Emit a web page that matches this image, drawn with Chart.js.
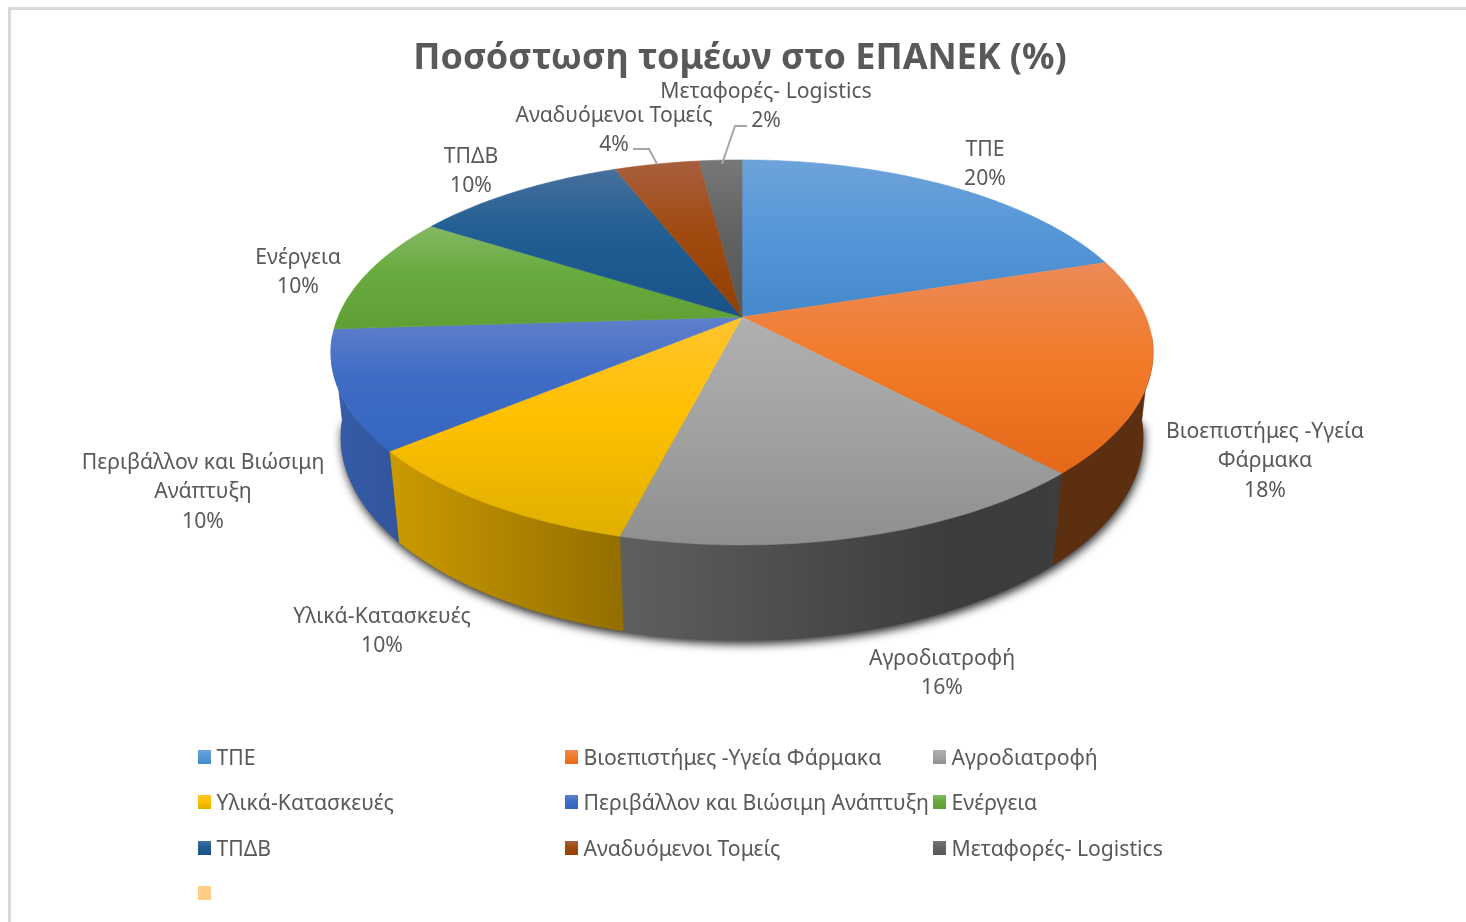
<!DOCTYPE html>
<html lang="el">
<head>
<meta charset="utf-8">
<title>Ποσόστωση τομέων στο ΕΠΑΝΕΚ (%)</title>
<script src="https://cdn.jsdelivr.net/npm/chart.js@4"></script>
<style>
    html, body { margin: 0; padding: 0; background: #fff; overflow: hidden; }
    canvas { display: block; }
</style>
</head>
<body>
<canvas id="pieChart" width="1466" height="922"></canvas>
<script>
// Chart data
const chartTitle = 'Ποσόστωση τομέων στο ΕΠΑΝΕΚ (%)';
const sectorLabels = ['ΤΠΕ', 'Βιοεπιστήμες -Υγεία Φάρμακα', 'Αγροδιατροφή', 'Υλικά-Κατασκευές',
    'Περιβάλλον και Βιώσιμη Ανάπτυξη', 'Ενέργεια', 'ΤΠΔΒ', 'Αναδυόμενοι Τομείς', 'Μεταφορές- Logistics', ''];
const sectorValues = [20, 18, 16, 10, 10, 10, 10, 4, 2, 0];

// Slice colours: base, top highlight, bottom shade
const sectorColors = ['#5697d8', '#f27b2a', '#a3a3a3', '#ffc000', '#3f6cc5',
    '#68ab3e', '#1f5d93', '#a04a10', '#636363', '#ffce85'];
const sectorLight = ['#6ea3da', '#ec8a58', '#b0b0b0', '#ffc42e', '#5f80cb',
    '#84b964', '#466f9c', '#a85f3e', '#777777', '#ffd08c'];
const sectorDark = ['#4589cb', '#e46817', '#8f8f8f', '#e0b000', '#3566c0',
    '#5f9f35', '#1a5288', '#924000', '#565656', '#ffce85'];

// Data label text, wrapped the way the reference wraps it
const labelLines = [['ΤΠΕ'], ['Βιοεπιστήμες -Υγεία', 'Φάρμακα'], ['Αγροδιατροφή'], ['Υλικά-Κατασκευές'],
    ['Περιβάλλον και Βιώσιμη', 'Ανάπτυξη'], ['Ενέργεια'], ['ΤΠΔΒ'], ['Αναδυόμενοι Τομείς'], ['Μεταφορές- Logistics']];

// Layout: centre x and first line y of each data label
const labelAnchors = [[985, 149.7], [1265, 431.7], [942, 658.7], [382, 616.7], [203, 462.7], [298, 257.7], [471, 156.7], [614, 115.7], [766, 91.7]];
const leaderLines = [
    [[633, 149], [649, 149], [657, 164]],
    [[747, 126], [735, 126], [722, 164]]
];
const legendColumns = [198, 565, 933];
const legendRows = [757, 802, 848, 893];

// Perspective of the tilted disc
const pie = { cx: 742, cy: 317, rx: 404, ry: 186, tilt: 0.184, depthW: 0.024, depthY: 85.4 };
// How dark the wall gets from left to right: [x, factor]
const wallShade = [[330, 0.86], [390, 0.8], [620, 0.58], [950, 0.37], [1153, 0.38]];
// Only this part of the rim faces the viewer
const wallFrom = 0.1;
const wallTo = Math.PI - 0.1;

const textColor = '#595959';
const textFont = '21.2px "Noto Sans"';

function project(angle, depth) {
    const u = Math.cos(angle);
    const v = Math.sin(angle);
    const w = 1 - pie.tilt * v + pie.depthW * depth;
    return {
        x: pie.cx + pie.rx * u / w,
        y: pie.cy + (pie.ry * v + pie.depthY * depth) / w
    };
}

function rimPoints(start, end, depth) {
    const steps = Math.max(2, Math.ceil((end - start) * 90));
    const points = [];
    for (let i = 0; i <= steps; i++) {
        points.push(project(start + (end - start) * i / steps, depth));
    }
    return points;
}

function tracePath(ctx, points) {
    ctx.beginPath();
    points.forEach((p, i) => (i ? ctx.lineTo(p.x, p.y) : ctx.moveTo(p.x, p.y)));
    ctx.closePath();
}

function shade(hex, factor) {
    const n = parseInt(hex.slice(1), 16);
    const part = (c) => Math.round(c * factor);
    return `rgb(${part(n >> 16)},${part((n >> 8) & 255)},${part(n & 255)})`;
}

function topGradient(ctx, i, y0, y1) {
    const g = ctx.createLinearGradient(0, y0, 0, y1);
    g.addColorStop(0, sectorLight[i]);
    g.addColorStop(0.45, sectorColors[i]);
    g.addColorStop(1, sectorDark[i]);
    return g;
}

function wallGradient(ctx, color) {
    const x0 = wallShade[0][0];
    const x1 = wallShade[wallShade.length - 1][0];
    const g = ctx.createLinearGradient(x0, 0, x1, 0);
    wallShade.forEach(([x, f]) => g.addColorStop((x - x0) / (x1 - x0), shade(color, f)));
    return g;
}

const pie3dPlugin = {
    id: 'pie3d',
    beforeDraw(chart) {
        const ctx = chart.ctx;
        ctx.save();
        ctx.fillStyle = '#d9d9d9';
        ctx.fillRect(8, 7, 1458, 3);
        ctx.fillRect(8, 7, 3, 915);
        ctx.restore();
    },
    beforeDatasetsDraw(chart) {
        const ctx = chart.ctx;
        const arcs = chart.getDatasetMeta(0).data;
        ctx.save();

        // soft shadow under the disc, kept below the widest part of the top face
        ctx.save();
        ctx.beginPath();
        ctx.rect(0, 375, chart.width, chart.height - 375);
        ctx.clip();
        ctx.shadowColor = 'rgba(0,0,0,0.85)';
        ctx.shadowBlur = 10;
        ctx.shadowOffsetX = 1;
        ctx.shadowOffsetY = 4;
        ctx.fillStyle = '#444';
        tracePath(ctx, rimPoints(wallFrom, wallTo, 1));
        ctx.fill();
        ctx.restore();

        // side walls, front facing part only
        arcs.forEach((arc, i) => {
            const start = Math.max(arc.startAngle, wallFrom);
            const end = Math.min(arc.endAngle, wallTo);
            if (end <= start) return;
            const points = rimPoints(start, end, 0).concat(rimPoints(start, end, 1).reverse());
            tracePath(ctx, points);
            const fill = wallGradient(ctx, sectorColors[i]);
            ctx.fillStyle = fill;
            ctx.strokeStyle = fill;
            ctx.lineWidth = 0.6;
            ctx.fill();
            ctx.stroke();
        });

        // top faces
        arcs.forEach((arc, i) => {
            if (arc.endAngle - arc.startAngle <= 0) return;
            const rim = rimPoints(arc.startAngle, arc.endAngle, 0);
            const points = [{ x: pie.cx, y: pie.cy }].concat(rim);
            const ys = points.map((p) => p.y);
            tracePath(ctx, points);
            const fill = topGradient(ctx, i, Math.min(...ys), Math.max(...ys));
            ctx.fillStyle = fill;
            ctx.strokeStyle = fill;
            ctx.lineWidth = 0.6;
            ctx.fill();
            ctx.stroke();
        });
        ctx.restore();

        // native flat arcs are replaced by the projected ones
        return false;
    },
    afterDraw(chart) {
        const ctx = chart.ctx;
        ctx.save();

        // leader lines
        ctx.strokeStyle = '#a6a6a6';
        ctx.lineWidth = 2;
        leaderLines.forEach((line) => {
            ctx.beginPath();
            line.forEach(([x, y], i) => (i ? ctx.lineTo(x, y) : ctx.moveTo(x, y)));
            ctx.stroke();
        });

        // data labels
        ctx.font = textFont;
        ctx.fillStyle = textColor;
        ctx.textAlign = 'center';
        ctx.textBaseline = 'middle';
        labelLines.forEach((lines, i) => {
            const [x, y] = labelAnchors[i];
            lines.forEach((line, row) => ctx.fillText(line, x, y + 29.5 * row));
            ctx.fillText(sectorValues[i] + '%', x, y + 29.5 * lines.length);
        });

        // legend
        ctx.textAlign = 'left';
        sectorLabels.forEach((label, i) => {
            const x = legendColumns[i % 3];
            const y = legendRows[Math.floor(i / 3)];
            ctx.fillStyle = topGradient(ctx, i, y - 7, y + 7);
            ctx.fillRect(x, y - 7, 13, 14);
            if (label) {
                ctx.fillStyle = textColor;
                ctx.fillText(label, x + 18.5, y + 1.7);
            }
        });
        ctx.restore();
    }
};

new Chart(document.getElementById('pieChart').getContext('2d'), {
    type: 'pie',
    data: {
        labels: sectorLabels,
        datasets: [{
            data: sectorValues,
            backgroundColor: sectorColors,
            borderWidth: 0
        }]
    },
    options: {
        responsive: false,
        animation: false,
        events: [],
        layout: { padding: { top: 30, left: 14 } },
        plugins: {
            title: {
                display: true,
                text: chartTitle,
                color: textColor,
                font: { family: '"Noto Sans"', size: 36, weight: 'bold' },
                padding: { top: 7, bottom: 0 }
            },
            legend: { display: false },
            tooltip: { enabled: false }
        }
    },
    plugins: [pie3dPlugin]
});
</script>
</body>
</html>
